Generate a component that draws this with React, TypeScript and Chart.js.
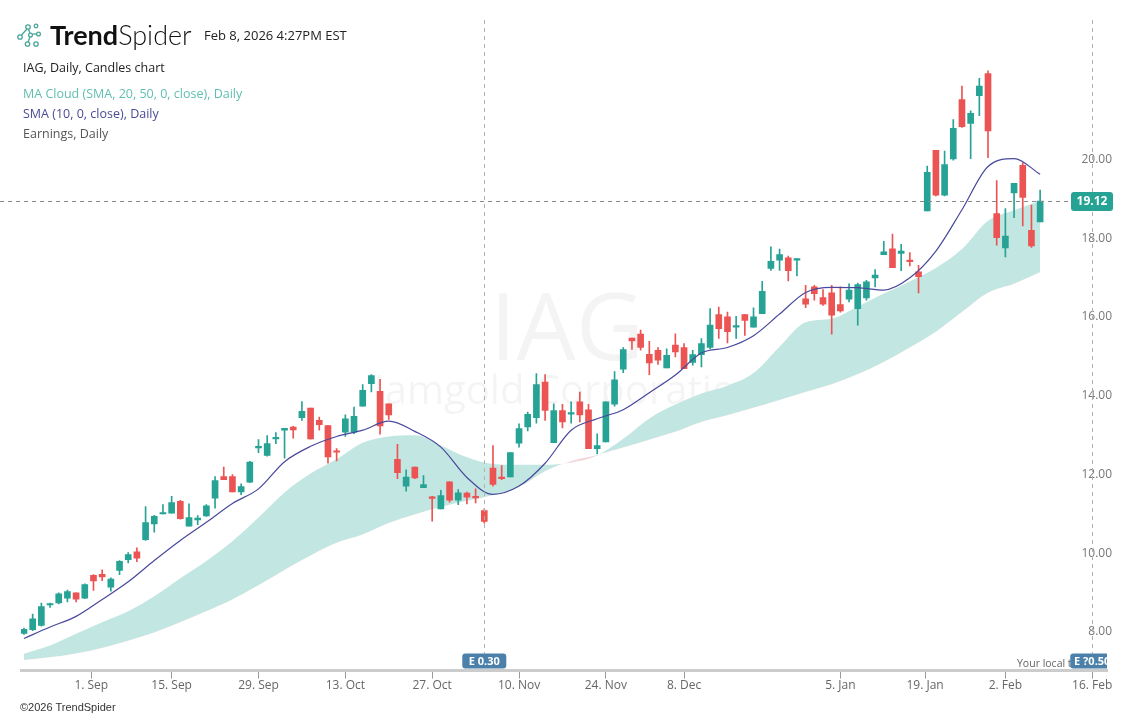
import React, { useEffect, useRef } from 'react';
import { Chart, registerables } from 'chart.js';

Chart.register(...registerables);

// ---------- data ----------
const START_DATE = '2025-08-20';
const HOLIDAYS = ['2025-09-01', '2025-11-27', '2025-12-25', '2026-01-01', '2026-01-19'];
const TOTAL_DAYS = 130;

const opens = [
  8.14, 8.23, 8.34, 8.86, 8.91, 9.03, 9.17, 9.03, 9.61, 9.64,
  9.31, 9.74, 10.01, 10.21, 10.52, 10.92, 11.17, 11.19, 11.49, 10.86,
  11.02, 11.12, 11.575, 12.12, 12.12, 11.73, 11.98, 12.85, 12.66, 13.08,
  13.3, 13.38, 13.62, 13.86, 13.55, 13.42, 12.77, 13.25, 13.25, 13.91,
  14.48, 14.29, 13.97, 12.56, 11.88, 12.36, 11.84, 11.6, 11.3, 11.99,
  11.52, 11.7, 11.62, 11.26, 12.34, 12.11, 12.11, 12.97, 13.38, 13.62,
  14.52, 12.98, 13.8, 13.71, 14.02, 13.82, 12.83, 13.0, 13.96, 14.85,
  15.64, 15.74, 15.23, 15.33, 14.88, 15.46, 15.4, 15.02, 15.22, 15.4,
  16.24, 16.18, 15.92, 16.24, 15.92, 16.26, 17.41, 17.62, 17.68, 17.62,
  16.64, 16.94, 16.67, 16.79, 16.49, 16.63, 16.39, 16.66, 17.17, 17.76,
  17.91, 17.79, 17.62, 17.32, 18.87, 20.41, 19.27, 20.19, 21.7, 21.09,
  21.8, 22.36, 18.8, 17.93, 19.33, 20.03, 18.38, 18.59,
];
const highs = [
  8.27, 8.63, 8.91, 8.91, 9.17, 9.24, 9.17, 9.4, 9.63, 9.75,
  9.55, 9.99, 10.19, 10.31, 11.36, 11.14, 11.41, 11.62, 11.52, 11.43,
  11.13, 11.41, 12.12, 12.36, 12.17, 11.94, 12.51, 13.06, 13.16, 13.24,
  13.35, 13.4, 14.03, 13.86, 13.63, 13.42, 12.83, 13.69, 13.89, 14.46,
  14.71, 14.59, 13.97, 12.94, 12.29, 12.36, 12.15, 11.62, 11.77, 11.99,
  11.79, 11.73, 11.81, 11.3, 12.91, 12.4, 12.73, 13.46, 13.76, 14.74,
  14.71, 13.97, 13.96, 14.02, 14.27, 13.96, 13.21, 14.02, 14.79, 15.4,
  15.64, 15.84, 15.56, 15.4, 15.37, 15.75, 15.5, 15.33, 15.63, 16.39,
  16.43, 16.3, 16.19, 16.24, 16.41, 17.08, 17.96, 17.9, 17.72, 17.66,
  16.98, 16.98, 16.87, 16.98, 16.94, 17.02, 17.04, 17.11, 17.38, 18.1,
  18.28, 18.02, 17.81, 17.49, 20.01, 20.41, 20.39, 21.19, 22.04, 21.41,
  22.24, 22.43, 19.64, 18.93, 19.57, 20.09, 19.02, 19.4,
];
const lows = [
  8.11, 8.21, 8.32, 8.8, 8.89, 8.94, 8.94, 9.02, 9.23, 9.48,
  9.21, 9.63, 9.93, 9.96, 10.5, 10.71, 11.17, 11.19, 11.04, 10.86,
  10.9, 11.11, 11.32, 12.04, 11.73, 11.66, 11.97, 12.73, 12.64, 12.96,
  12.59, 13.1, 13.55, 13.07, 13.3, 12.46, 12.52, 13.14, 13.21, 13.91,
  14.27, 13.2, 13.575, 12.07, 11.75, 12.07, 11.84, 10.99, 11.3, 11.47,
  11.41, 11.43, 11.45, 10.94, 11.88, 12.04, 12.11, 12.87, 13.28, 13.48,
  13.55, 12.98, 13.36, 13.48, 13.51, 12.83, 12.7, 13.0, 13.91, 14.76,
  15.35, 15.33, 14.71, 14.97, 14.88, 15.16, 14.86, 14.95, 14.91, 15.37,
  15.63, 15.52, 15.63, 15.71, 15.92, 16.26, 17.36, 17.36, 17.09, 17.22,
  16.41, 16.6, 16.47, 15.74, 16.3, 16.56, 15.97, 16.6, 16.94, 17.76,
  17.43, 17.35, 17.47, 16.79, 18.87, 19.25, 19.25, 20.16, 20.99, 20.2,
  21.29, 20.22, 18.0, 17.7, 18.7, 18.49, 17.94, 18.59,
];
const closes = [
  8.24, 8.51, 8.82, 8.87, 9.14, 9.2, 9.01, 9.38, 9.47, 9.57,
  9.52, 9.97, 10.14, 10.05, 10.95, 11.11, 11.21, 11.46, 11.05, 11.08,
  11.07, 11.38, 12.02, 12.04, 11.73, 11.87, 12.49, 12.89, 12.96, 13.12,
  13.35, 13.31, 13.78, 13.08, 13.44, 12.62, 12.74, 13.59, 13.65, 14.31,
  14.69, 13.41, 13.69, 12.22, 12.11, 12.09, 11.92, 11.57, 11.64, 11.52,
  11.71, 11.6, 11.58, 10.98, 11.92, 12.07, 12.73, 13.34, 13.7, 14.46,
  13.8, 13.8, 13.51, 13.74, 13.69, 12.83, 12.91, 14.02, 14.58, 15.35,
  15.57, 15.4, 15.01, 15.08, 15.2, 15.29, 14.86, 15.22, 15.5, 15.97,
  15.88, 15.8, 15.95, 16.09, 16.18, 16.83, 17.59, 17.76, 17.35, 17.64,
  16.5, 16.77, 16.5, 16.22, 16.33, 16.86, 17.0, 17.07, 17.24, 17.83,
  17.43, 17.85, 17.58, 17.2, 19.85, 19.27, 20.05, 20.97, 21.01, 21.35,
  22.04, 20.9, 18.19, 18.23, 19.57, 19.21, 17.98, 19.12,
];

// moving averages, one value every SMA_STEP trading days
const SMA_STEP = 3;
const sma10 = [
  8.01, 8.3, 8.57, 9.0, 9.45, 9.99, 10.5, 10.96, 11.44, 11.81,
  12.5, 12.89, 13.14, 13.3, 13.53, 13.27, 12.87, 12.1, 11.67, 11.88,
  12.46, 13.3, 13.59, 13.82, 14.25, 14.7, 15.26, 15.4, 15.7, 16.25,
  16.8, 16.93, 16.92, 16.86, 17.17, 17.85, 18.9, 20.0, 20.2, 19.8,
];
const sma20 = [
  7.62, 7.83, 8.13, 8.42, 8.7, 9.08, 9.54, 9.98, 10.48, 11.08,
  11.72, 12.2, 12.56, 12.98, 13.14, 13.17, 12.91, 12.61, 12.44, 12.42,
  12.42, 12.48, 12.66, 13.08, 13.6, 13.95, 14.23, 14.43, 14.75, 15.42,
  16.04, 16.13, 16.44, 16.77, 17.08, 17.42, 17.9, 18.62, 18.89, 19.13,
];
const sma50 = [
  7.46, 7.53, 7.63, 7.77, 7.95, 8.16, 8.42, 8.7, 9.0, 9.36,
  9.75, 10.12, 10.44, 10.65, 10.94, 11.16, 11.35, 11.51, 11.65, 11.86,
  12.26, 12.52, 12.67, 12.86, 13.06, 13.26, 13.51, 13.68, 13.87, 14.07,
  14.27, 14.47, 14.72, 15.03, 15.4, 15.8, 16.3, 16.79, 17.02, 17.31,
];

const tickDates = [
  '2025-09-01', '2025-09-15', '2025-09-29', '2025-10-13', '2025-10-27', '2025-11-10',
  '2025-11-24', '2025-12-08', '2026-01-05', '2026-01-19', '2026-02-02', '2026-02-16',
];
const tickLabels = [
  '1. Sep', '15. Sep', '29. Sep', '13. Oct', '27. Oct', '10. Nov',
  '24. Nov', '8. Dec', '5. Jan', '19. Jan', '2. Feb', '16. Feb',
];
const yTickValues = [8, 10, 12, 14, 16, 18, 20];

const earningsDates = ['2025-11-04', '2026-02-16'];
const earningsLabels = ['E 0.30', 'E ?0.50'];
const lastPrice = 19.12;

// ---------- helpers ----------
const UP = '#26a394';
const DOWN = '#ec5453';

function buildDays(): string[] {
  const out: string[] = [];
  const d = new Date(START_DATE + 'T00:00:00Z');
  while (out.length < TOTAL_DAYS) {
    const wd = d.getUTCDay();
    const s = d.toISOString().slice(0, 10);
    if (wd !== 0 && wd !== 6 && !HOLIDAYS.includes(s)) out.push(s);
    d.setUTCDate(d.getUTCDate() + 1);
  }
  return out;
}
const days = buildDays();
function dayIndex(date: string): number {
  const i = days.findIndex((d) => d >= date);
  return days[i] === date ? i : i - 0.25;
}

const X_MIN = -0.345;
const X_MAX = 124.7;
const Y_MIN = 7.193;
const Y_MAX = 23.72;

function roundRect(ctx: CanvasRenderingContext2D, x: number, y: number, w: number, h: number, r: number) {
  ctx.beginPath();
  ctx.moveTo(x + r, y);
  ctx.lineTo(x + w - r, y);
  ctx.quadraticCurveTo(x + w, y, x + w, y + r);
  ctx.lineTo(x + w, y + h - r);
  ctx.quadraticCurveTo(x + w, y + h, x + w - r, y + h);
  ctx.lineTo(x + r, y + h);
  ctx.quadraticCurveTo(x, y + h, x, y + h - r);
  ctx.lineTo(x, y + r);
  ctx.quadraticCurveTo(x, y, x + r, y);
  ctx.closePath();
}

const overlayPlugin = {
  id: 'overlay',
  beforeDatasetsDraw(chart: any) {
    const { ctx, chartArea } = chart;
    ctx.save();
    ctx.fillStyle = 'rgba(0,0,0,0.045)';
    ctx.textAlign = 'center';
    ctx.textBaseline = 'alphabetic';
    const cx = (chartArea.left + chartArea.right) / 2 + 3;
    ctx.font = '94px "Open Sans", sans-serif';
    ctx.fillText('IAG', cx, 360);
    ctx.font = '40px "Open Sans", sans-serif';
    ctx.fillText('Iamgold Corporation', cx, 404);
    ctx.restore();
  },
  afterDatasetsDraw(chart: any) {
    const { ctx, chartArea, scales } = chart;
    const xs = scales.x;
    const ys = scales.y;
    ctx.save();
    // price line
    const py = Math.round(ys.getPixelForValue(lastPrice)) + 0.5;
    ctx.setLineDash([4, 4]);
    ctx.strokeStyle = '#8a8a8a';
    ctx.lineWidth = 1;
    ctx.beginPath();
    ctx.moveTo(0, py);
    ctx.lineTo(1071, py);
    ctx.stroke();
    // earnings lines
    const badgeTop = chartArea.bottom - 17;
    ctx.strokeStyle = '#b0b0b0';
    earningsDates.forEach((d) => {
      const x = Math.round(xs.getPixelForValue(dayIndex(d))) + 0.5;
      ctx.beginPath();
      ctx.moveTo(x, chartArea.top);
      ctx.lineTo(x, badgeTop);
      ctx.stroke();
    });
    ctx.setLineDash([]);
    // clipped region for bottom texts
    ctx.save();
    ctx.beginPath();
    ctx.rect(chartArea.left, chartArea.top, chartArea.right - chartArea.left, chartArea.bottom - chartArea.top);
    ctx.clip();
    ctx.fillStyle = '#666';
    ctx.font = '10.5px "Open Sans", sans-serif';
    ctx.textAlign = 'left';
    ctx.textBaseline = 'middle';
    ctx.fillText('Your local time', 1017, chartArea.bottom - 7);
    earningsDates.forEach((d, i) => {
      const x = xs.getPixelForValue(dayIndex(d));
      roundRect(ctx, x - 22, badgeTop, 44, 15, 3);
      ctx.fillStyle = '#4a80a9';
      ctx.fill();
      ctx.fillStyle = '#ffffff';
      ctx.font = 'bold 11px "Open Sans", sans-serif';
      ctx.textAlign = 'center';
      ctx.fillText(earningsLabels[i], x, badgeTop + 8);
    });
    ctx.restore();
    // price badge
    roundRect(ctx, 1071, py - 9.5, 42, 19, 3);
    ctx.fillStyle = '#26a394';
    ctx.fill();
    ctx.fillStyle = '#ffffff';
    ctx.font = 'bold 12px "Open Sans", sans-serif';
    ctx.textAlign = 'center';
    ctx.textBaseline = 'middle';
    ctx.fillText(lastPrice.toFixed(2), 1092, py + 0.5);
    ctx.restore();
  },
};

export default function App() {
  const ref = useRef<HTMLCanvasElement | null>(null);

  useEffect(() => {
    if (!ref.current) return;
    const candleColor = (c: any) => (closes[c.dataIndex] >= opens[c.dataIndex] ? UP : DOWN);
    const wicks = highs.map((h, i) => ({ x: i, y: [lows[i], h] }));
    const bodies = opens.map((o, i) => ({ x: i, y: [Math.min(o, closes[i]), Math.max(o, closes[i])] }));
    const pts = (arr: number[]) => arr.map((v, k) => ({ x: Math.min(k * SMA_STEP, opens.length - 1), y: v }));
    const tickPos = tickDates.map(dayIndex);

    const chart = new Chart(ref.current, {
      type: 'bar',
      data: {
        datasets: [
          {
            type: 'line',
            label: 'SMA 10',
            data: pts(sma10),
            borderColor: '#48489c',
            borderWidth: 1.2,
            pointRadius: 0,
            cubicInterpolationMode: 'monotone',
            order: 0,
          } as any,
          {
            type: 'bar',
            label: 'wick',
            data: wicks,
            backgroundColor: candleColor,
            barThickness: 1,
            grouped: false,
            order: 2,
          } as any,
          {
            type: 'bar',
            label: 'body',
            data: bodies,
            backgroundColor: candleColor,
            barThickness: 6,
            minBarLength: 1.5,
            grouped: false,
            order: 1,
          } as any,
          {
            type: 'line',
            label: 'SMA 20',
            data: pts(sma20),
            borderColor: 'rgba(0,0,0,0)',
            borderWidth: 0,
            pointRadius: 0,
            cubicInterpolationMode: 'monotone',
            fill: { target: '+1', above: '#c2e6e1', below: '#f6d4d6' },
            order: 5,
          } as any,
          {
            type: 'line',
            label: 'SMA 50',
            data: pts(sma50),
            borderColor: 'rgba(0,0,0,0)',
            borderWidth: 0,
            pointRadius: 0,
            cubicInterpolationMode: 'monotone',
            order: 6,
          } as any,
        ],
      },
      options: {
        animation: false,
        responsive: false,
        events: [],
        layout: { padding: { left: 21, right: 20, top: 20, bottom: 24 } },
        plugins: { legend: { display: false }, tooltip: { enabled: false } },
        scales: {
          x: {
            type: 'linear',
            min: X_MIN,
            max: X_MAX,
            offset: false,
            grid: { display: true, drawOnChartArea: false, drawTicks: true, tickLength: 8, color: '#999', offset: false },
            border: { display: true, color: '#cccccc', width: 3 },
            afterBuildTicks: (s: any) => {
              s.ticks = tickPos.map((v) => ({ value: v }));
            },
            ticks: {
              autoSkip: false,
              maxRotation: 0,
              color: '#666',
              padding: 0,
              font: { family: '"Open Sans", sans-serif', size: 12 },
              callback: (_v: any, i: number) => tickLabels[i],
            },
          } as any,
          y: {
            type: 'linear',
            position: 'right',
            min: Y_MIN,
            max: Y_MAX,
            grid: { display: false, drawTicks: false },
            border: { display: false },
            afterBuildTicks: (s: any) => {
              s.ticks = yTickValues.map((v) => ({ value: v }));
            },
            ticks: {
              mirror: true,
              padding: 5,
              labelOffset: -7,
              color: '#777',
              font: { family: '"Open Sans", sans-serif', size: 12 },
              callback: (v: any) => Number(v).toFixed(2),
            },
          } as any,
        },
      },
      plugins: [overlayPlugin as any],
    });
    return () => chart.destroy();
  }, []);

  const abs = (left: number, top: number, extra: React.CSSProperties = {}): React.CSSProperties => ({
    position: 'absolute',
    left,
    top,
    whiteSpace: 'nowrap',
    ...extra,
  });

  return (
    <div
      style={{
        position: 'absolute',
        left: 0,
        top: 0,
        width: 1137,
        height: 717,
        background: '#ffffff',
        overflow: 'hidden',
        fontFamily: '"Open Sans", sans-serif',
      }}
    >
      <canvas ref={ref} width={1137} height={717} style={{ position: 'absolute', left: 0, top: 0 }} />
      <svg width="30" height="28" viewBox="0 0 30 28" style={abs(16, 22)}>
        <g stroke="#4aa59b" strokeWidth="1.3" fill="none">
          <line x1="5.5" y1="13" x2="11" y2="7" />
          <line x1="12.5" y1="7.5" x2="14" y2="11" />
          <line x1="14" y1="15" x2="12" y2="20" />
          <line x1="16.5" y1="12" x2="20.5" y2="12" />
          <circle cx="4" cy="15" r="2.2" />
          <circle cx="12" cy="5" r="2.2" />
          <circle cx="20" cy="4" r="1.8" />
          <circle cx="14.5" cy="13" r="1.9" />
          <circle cx="22.5" cy="12" r="1.9" />
          <circle cx="11.5" cy="22" r="2.2" />
          <circle cx="20" cy="22" r="2.2" />
        </g>
      </svg>
      <div style={abs(50, 19, { fontFamily: 'Lato, sans-serif', fontSize: 27, lineHeight: '32px', color: '#111' })}>
        <span style={{ fontWeight: 700 }}>Trend</span>
        <span style={{ fontWeight: 300 }}>Spider</span>
      </div>
      <div style={abs(204, 27, { fontSize: 13, lineHeight: '16px', color: '#222' })}>Feb 8, 2026 4:27PM EST</div>
      <div style={abs(23, 60, { fontSize: 12.5, lineHeight: '16px', color: '#222' })}>IAG, Daily, Candles chart</div>
      <div style={abs(23, 86, { fontSize: 12.5, lineHeight: '16px', color: '#5fbfb1' })}>
        MA Cloud (SMA, 20, 50, 0, close), Daily
      </div>
      <div style={abs(23, 106, { fontSize: 12.5, lineHeight: '16px', color: '#4a4a94' })}>SMA (10, 0, close), Daily</div>
      <div style={abs(23, 126, { fontSize: 12.5, lineHeight: '16px', color: '#555' })}>Earnings, Daily</div>
      <div
        style={abs(20, 700, { fontFamily: '"Liberation Sans", Arial, sans-serif', fontSize: 11, lineHeight: '14px', color: '#333' })}
      >
        ©2026 TrendSpider
      </div>
    </div>
  );
}
